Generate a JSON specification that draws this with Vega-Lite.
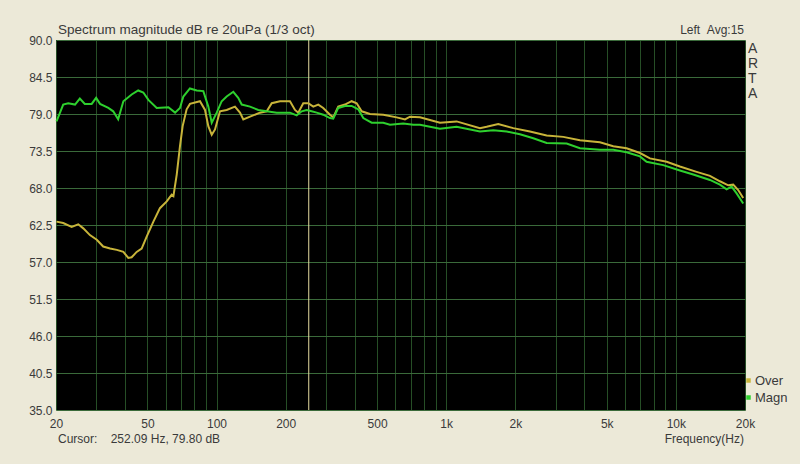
{
  "$schema": "https://vega.github.io/schema/vega-lite/v6.json",
  "width": 689,
  "height": 370,
  "autosize": {"type": "none"},
  "padding": {"left": 56, "top": 40, "right": 55, "bottom": 54},
  "background": "#ece9d8",
  "config": {
    "view": {"fill": "#000000", "stroke": null},
    "font": "Liberation Sans",
    "axis": {"labelFont": "Liberation Sans", "labelFontSize": 12, "labelColor": "#3a3a3a", "domain": false, "ticks": false, "title": null}
  },
  "datasets": {
    "curves": [
      {"f": 20.1, "db": 63.0, "s": "Over"}, {"f": 21.5, "db": 62.8, "s": "Over"}, {"f": 23.4, "db": 62.2, "s": "Over"}, {"f": 25.0, "db": 62.6, "s": "Over"}, {"f": 26.3, "db": 62.0, "s": "Over"}, {"f": 28.1, "db": 61.0, "s": "Over"}, {"f": 30.1, "db": 60.3, "s": "Over"}, {"f": 32.1, "db": 59.3, "s": "Over"}, {"f": 34.4, "db": 59.0, "s": "Over"}, {"f": 36.8, "db": 58.8, "s": "Over"}, {"f": 39.3, "db": 58.5, "s": "Over"}, {"f": 41.3, "db": 57.6, "s": "Over"}, {"f": 42.7, "db": 57.7, "s": "Over"}, {"f": 44.9, "db": 58.5, "s": "Over"}, {"f": 47.2, "db": 59.0, "s": "Over"}, {"f": 49.7, "db": 60.8, "s": "Over"}, {"f": 53.1, "db": 63.0, "s": "Over"}, {"f": 56.7, "db": 65.0, "s": "Over"}, {"f": 60.7, "db": 66.0, "s": "Over"}, {"f": 63.8, "db": 67.0, "s": "Over"}, {"f": 64.9, "db": 66.8, "s": "Over"}, {"f": 67.1, "db": 70.0, "s": "Over"}, {"f": 69.3, "db": 74.2, "s": "Over"}, {"f": 71.2, "db": 77.2, "s": "Over"}, {"f": 74.1, "db": 79.7, "s": "Over"}, {"f": 76.6, "db": 80.5, "s": "Over"}, {"f": 84.7, "db": 80.9, "s": "Over"}, {"f": 89.1, "db": 79.6, "s": "Over"}, {"f": 92.1, "db": 77.2, "s": "Over"}, {"f": 95.3, "db": 75.9, "s": "Over"}, {"f": 98.5, "db": 76.7, "s": "Over"}, {"f": 103.5, "db": 79.4, "s": "Over"}, {"f": 110.7, "db": 79.6, "s": "Over"}, {"f": 120.3, "db": 80.1, "s": "Over"}, {"f": 126.5, "db": 79.2, "s": "Over"}, {"f": 130.8, "db": 78.2, "s": "Over"}, {"f": 139.9, "db": 78.6, "s": "Over"}, {"f": 154.6, "db": 79.2, "s": "Over"}, {"f": 165.4, "db": 79.4, "s": "Over"}, {"f": 173.9, "db": 80.6, "s": "Over"}, {"f": 188.9, "db": 80.9, "s": "Over"}, {"f": 208.8, "db": 80.9, "s": "Over"}, {"f": 219.6, "db": 79.6, "s": "Over"}, {"f": 226.9, "db": 79.2, "s": "Over"}, {"f": 238.6, "db": 80.6, "s": "Over"}, {"f": 250.9, "db": 80.6, "s": "Over"}, {"f": 263.8, "db": 80.1, "s": "Over"}, {"f": 277.3, "db": 80.4, "s": "Over"}, {"f": 291.5, "db": 79.9, "s": "Over"}, {"f": 311.8, "db": 78.9, "s": "Over"}, {"f": 322.3, "db": 78.5, "s": "Over"}, {"f": 338.8, "db": 80.1, "s": "Over"}, {"f": 362.4, "db": 80.4, "s": "Over"}, {"f": 387.6, "db": 80.9, "s": "Over"}, {"f": 407.6, "db": 80.6, "s": "Over"}, {"f": 428.6, "db": 79.4, "s": "Over"}, {"f": 465.6, "db": 79.0, "s": "Over"}, {"f": 532.1, "db": 78.9, "s": "Over"}, {"f": 608.7, "db": 78.5, "s": "Over"}, {"f": 661.5, "db": 78.2, "s": "Over"}, {"f": 695.4, "db": 78.6, "s": "Over"}, {"f": 768.6, "db": 78.5, "s": "Over"}, {"f": 939.3, "db": 77.7, "s": "Over"}, {"f": 1110, "db": 77.9, "s": "Over"}, {"f": 1403, "db": 76.9, "s": "Over"}, {"f": 1500, "db": 77.1, "s": "Over"}, {"f": 1685, "db": 77.5, "s": "Over"}, {"f": 1959, "db": 76.9, "s": "Over"}, {"f": 2315, "db": 76.4, "s": "Over"}, {"f": 2738, "db": 75.8, "s": "Over"}, {"f": 3233, "db": 75.6, "s": "Over"}, {"f": 3822, "db": 75.1, "s": "Over"}, {"f": 4671, "db": 74.8, "s": "Over"}, {"f": 5337, "db": 74.2, "s": "Over"}, {"f": 6103, "db": 73.9, "s": "Over"}, {"f": 6976, "db": 73.2, "s": "Over"}, {"f": 7710, "db": 72.4, "s": "Over"}, {"f": 9116, "db": 71.9, "s": "Over"}, {"f": 10413, "db": 71.2, "s": "Over"}, {"f": 12313, "db": 70.4, "s": "Over"}, {"f": 14073, "db": 69.8, "s": "Over"}, {"f": 15554, "db": 69.0, "s": "Over"}, {"f": 16904, "db": 68.4, "s": "Over"}, {"f": 17770, "db": 68.5, "s": "Over"}, {"f": 18682, "db": 67.7, "s": "Over"}, {"f": 19643, "db": 66.5, "s": "Over"},
      {"f": 20.1, "db": 77.9, "s": "Magn"}, {"f": 21.5, "db": 80.4, "s": "Magn"}, {"f": 22.6, "db": 80.6, "s": "Magn"}, {"f": 24.2, "db": 80.4, "s": "Magn"}, {"f": 25.4, "db": 81.3, "s": "Magn"}, {"f": 26.7, "db": 80.5, "s": "Magn"}, {"f": 28.6, "db": 80.5, "s": "Magn"}, {"f": 29.9, "db": 81.4, "s": "Magn"}, {"f": 31.1, "db": 80.5, "s": "Magn"}, {"f": 33.8, "db": 79.9, "s": "Magn"}, {"f": 35.5, "db": 79.4, "s": "Magn"}, {"f": 37.3, "db": 78.2, "s": "Magn"}, {"f": 39.3, "db": 80.9, "s": "Magn"}, {"f": 42.7, "db": 81.9, "s": "Magn"}, {"f": 45.6, "db": 82.5, "s": "Magn"}, {"f": 48.0, "db": 82.2, "s": "Magn"}, {"f": 50.5, "db": 81.1, "s": "Magn"}, {"f": 54.9, "db": 79.9, "s": "Magn"}, {"f": 61.7, "db": 80.0, "s": "Magn"}, {"f": 66.0, "db": 79.2, "s": "Magn"}, {"f": 69.3, "db": 79.9, "s": "Magn"}, {"f": 71.7, "db": 81.6, "s": "Magn"}, {"f": 76.6, "db": 82.8, "s": "Magn"}, {"f": 82.0, "db": 82.5, "s": "Magn"}, {"f": 87.6, "db": 82.4, "s": "Magn"}, {"f": 92.1, "db": 80.1, "s": "Magn"}, {"f": 95.3, "db": 77.7, "s": "Magn"}, {"f": 100.2, "db": 79.2, "s": "Magn"}, {"f": 105.3, "db": 80.9, "s": "Magn"}, {"f": 110.7, "db": 81.6, "s": "Magn"}, {"f": 118.3, "db": 82.3, "s": "Magn"}, {"f": 124.3, "db": 81.4, "s": "Magn"}, {"f": 128.7, "db": 80.4, "s": "Magn"}, {"f": 139.9, "db": 80.1, "s": "Magn"}, {"f": 152.0, "db": 79.6, "s": "Magn"}, {"f": 165.4, "db": 79.4, "s": "Magn"}, {"f": 182.8, "db": 79.2, "s": "Magn"}, {"f": 208.8, "db": 79.2, "s": "Magn"}, {"f": 223.3, "db": 78.8, "s": "Magn"}, {"f": 234.8, "db": 79.4, "s": "Magn"}, {"f": 246.8, "db": 79.6, "s": "Magn"}, {"f": 259.5, "db": 79.4, "s": "Magn"}, {"f": 272.9, "db": 79.2, "s": "Magn"}, {"f": 291.5, "db": 78.9, "s": "Magn"}, {"f": 311.8, "db": 78.4, "s": "Magn"}, {"f": 322.3, "db": 78.3, "s": "Magn"}, {"f": 338.8, "db": 79.9, "s": "Magn"}, {"f": 362.4, "db": 80.2, "s": "Magn"}, {"f": 387.6, "db": 80.2, "s": "Magn"}, {"f": 414.2, "db": 79.7, "s": "Magn"}, {"f": 435.5, "db": 78.4, "s": "Magn"}, {"f": 473.6, "db": 77.7, "s": "Magn"}, {"f": 532.1, "db": 77.7, "s": "Magn"}, {"f": 569.1, "db": 77.4, "s": "Magn"}, {"f": 650.1, "db": 77.6, "s": "Magn"}, {"f": 718.8, "db": 77.4, "s": "Magn"}, {"f": 768.6, "db": 77.4, "s": "Magn"}, {"f": 939.3, "db": 76.8, "s": "Magn"}, {"f": 1110, "db": 77.1, "s": "Magn"}, {"f": 1403, "db": 76.4, "s": "Magn"}, {"f": 1603, "db": 76.6, "s": "Magn"}, {"f": 1834, "db": 76.4, "s": "Magn"}, {"f": 2095, "db": 76.0, "s": "Magn"}, {"f": 2394, "db": 75.4, "s": "Magn"}, {"f": 2738, "db": 74.7, "s": "Magn"}, {"f": 3345, "db": 74.6, "s": "Magn"}, {"f": 3822, "db": 73.9, "s": "Magn"}, {"f": 4671, "db": 73.7, "s": "Magn"}, {"f": 5337, "db": 73.7, "s": "Magn"}, {"f": 6103, "db": 73.3, "s": "Magn"}, {"f": 6976, "db": 72.7, "s": "Magn"}, {"f": 7458, "db": 71.9, "s": "Magn"}, {"f": 8810, "db": 71.4, "s": "Magn"}, {"f": 10413, "db": 70.6, "s": "Magn"}, {"f": 11904, "db": 70.0, "s": "Magn"}, {"f": 14073, "db": 69.2, "s": "Magn"}, {"f": 15554, "db": 68.5, "s": "Magn"}, {"f": 16634, "db": 67.8, "s": "Magn"}, {"f": 17490, "db": 68.2, "s": "Magn"}, {"f": 18386, "db": 67.2, "s": "Magn"}, {"f": 19643, "db": 65.7, "s": "Magn"}
    ],
    "cursor": [{"f": 252.09}],
    "one": [{}]
  },
  "layer": [
    {
      "data": {"name": "cursor"},
      "mark": {"type": "rule", "color": "#e6dca0", "strokeWidth": 1},
      "encoding": {
        "x": {"field": "f", "type": "quantitative", "scale": {"type": "log", "domain": [20, 20000], "nice": false},
          "axis": {"values": [20,30,40,50,60,70,80,90,100,200,300,400,500,600,700,800,900,1000,2000,3000,4000,5000,6000,7000,8000,9000,10000,20000],
            "tickCount": 40, "grid": true, "gridColor": "#264e26", "gridWidth": 1, "gridOpacity": 1, "labelPadding": 8, "labelFlush": false, "labelOverlap": false, "labelBound": false,
            "labelExpr": "indexof([20,50,100,200,500],datum.value)>=0 ? toString(datum.value) : (indexof([1000,2000,5000,10000,20000],datum.value)>=0 ? toString(datum.value/1000)+'k' : '')"}}
      }
    },
    {
      "data": {"name": "curves"},
      "mark": {"type": "line", "strokeWidth": 2, "interpolate": "linear"},
      "encoding": {
        "x": {"field": "f", "type": "quantitative"},
        "y": {"field": "db", "type": "quantitative", "scale": {"domain": [35, 90], "nice": false, "zero": false},
          "axis": {"values": [35, 40.5, 46, 51.5, 57, 62.5, 68, 73.5, 79, 84.5, 90], "tickCount": 20, "format": ".1f", "grid": true, "gridColor": "#3a6a3a", "gridOpacity": 1, "labelPadding": 4, "labelOverlap": false, "labelFlush": false, "labelBound": false}},
        "color": {"field": "s", "type": "nominal", "sort": ["Over", "Magn"],
          "scale": {"domain": ["Over", "Magn"], "range": ["#c8b43a", "#2ed02e"]},
          "legend": {"orient": "none", "legendX": 686, "legendY": 334, "title": null, "symbolType": "square", "symbolSize": 20, "symbolStrokeWidth": 0,
            "labelFontSize": 13, "labelColor": "#3a3a3a", "labelFont": "Liberation Sans", "labelOffset": 0, "rowPadding": 3, "padding": 0, "symbolOffset": 0,
            "encode": {"symbols": {"update": {"fill": {"scale": "color", "field": "value"}, "fillOpacity": {"value": 1}, "strokeWidth": {"value": 0}}}}}},
        "order": {"field": "s", "sort": "descending"}
      }
    },
    {
      "data": {"name": "one"},
      "mark": {"type": "text", "align": "left", "baseline": "alphabetic", "fontSize": 13.5, "color": "#3a3a3a", "dx": 2, "dy": -6},
      "encoding": {"x": {"datum": 20}, "y": {"datum": 90}, "text": {"value": "Spectrum magnitude dB re 20uPa (1/3 oct)"}}
    },
    {
      "data": {"name": "one"},
      "mark": {"type": "text", "align": "right", "baseline": "alphabetic", "fontSize": 12, "color": "#3a3a3a", "dx": -1, "dy": -6},
      "encoding": {"x": {"datum": 20000}, "y": {"datum": 90}, "text": {"value": "Left\u00a0\u00a0Avg:15"}}
    },
    {
      "data": {"name": "one"},
      "mark": {"type": "text", "align": "left", "baseline": "alphabetic", "fontSize": 14, "color": "#3a3a3a", "dx": 3, "dy": 13, "lineBreak": "\n", "lineHeight": 15},
      "encoding": {"x": {"datum": 20000}, "y": {"datum": 90}, "text": {"value": "A\nR\nT\nA"}}
    },
    {
      "data": {"name": "one"},
      "mark": {"type": "text", "align": "left", "baseline": "alphabetic", "fontSize": 12, "color": "#3a3a3a", "dx": 2, "dy": 33},
      "encoding": {"x": {"datum": 20}, "y": {"datum": 35}, "text": {"value": "Cursor:\u00a0\u00a0\u00a0\u00a0252.09 Hz, 79.80 dB"}}
    },
    {
      "data": {"name": "one"},
      "mark": {"type": "text", "align": "right", "baseline": "alphabetic", "fontSize": 12, "color": "#3a3a3a", "dx": -1, "dy": 33},
      "encoding": {"x": {"datum": 20000}, "y": {"datum": 35}, "text": {"value": "Frequency(Hz)"}}
    }
  ]
}
